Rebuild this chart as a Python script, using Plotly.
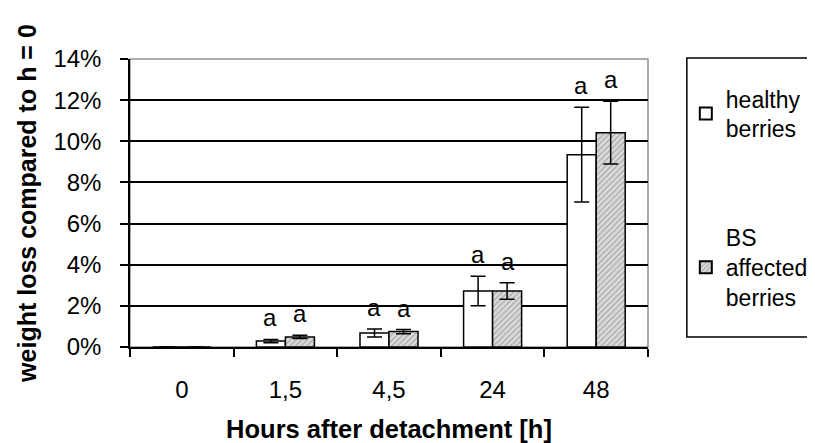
import plotly.graph_objects as go

categories = ["0", "1,5", "4,5", "24", "48"]
healthy = [0.0, 0.0029, 0.0068, 0.0272, 0.0935]
healthy_err = [0.0, 0.0008, 0.0019, 0.0072, 0.0230]
bs = [0.0, 0.0049, 0.0075, 0.0272, 0.1042]
bs_err = [0.0, 0.0008, 0.0010, 0.0040, 0.0153]
sig_healthy = ["", "a", "a", "a", "a"]
sig_bs = ["", "a", "a", "a", "a"]
series_names = ["healthy<br>berries", "BS<br>affected<br>berries"]
y_ticks = [0, 0.02, 0.04, 0.06, 0.08, 0.10, 0.12, 0.14]
y_title = "weight loss compared to h = 0"
x_title = "Hours after detachment [h]"

FONT = "Liberation Sans, Arial, sans-serif"

fig = go.Figure()
fig.add_trace(go.Bar(
    x=categories, y=healthy, name=series_names[0],
    marker=dict(color="white", line=dict(color="black", width=1.5)),
    error_y=dict(type="data", array=healthy_err, visible=True,
                 color="black", thickness=1.5, width=7.5),
    legendgroup="h",
))
fig.add_trace(go.Bar(
    x=categories, y=bs, name=series_names[1],
    marker=dict(color="#d4d4d4", line=dict(color="black", width=1.5),
                pattern=dict(shape="/", fgcolor="#777777", bgcolor="#dcdcdc",
                             size=4, solidity=0.35)),
    error_y=dict(type="data", array=bs_err, visible=True,
                 color="black", thickness=1.5, width=7.5),
    legendgroup="b",
))

annotations = []
for i, c in enumerate(categories):
    if sig_healthy[i]:
        annotations.append(dict(x=i, y=healthy[i] + healthy_err[i], text=sig_healthy[i],
                                xref="x", yref="y", showarrow=False, xshift=-15,
                                yanchor="bottom", yshift=6,
                                font=dict(family=FONT, size=24, color="black")))
    if sig_bs[i]:
        annotations.append(dict(x=i, y=bs[i] + bs_err[i], text=sig_bs[i],
                                xref="x", yref="y", showarrow=False, xshift=15,
                                yanchor="bottom", yshift=6,
                                font=dict(family=FONT, size=24, color="black")))
annotations.append(dict(x=-0.199, y=0.5, xref="paper", yref="paper", text="<b>" + y_title + "</b>",
                        textangle=-90, showarrow=False, xanchor="center", yanchor="middle",
                        font=dict(family=FONT, size=25, color="black")))

fig.update_layout(
    width=807, height=435,
    margin=dict(l=122, r=167, t=51, b=96, autoexpand=False),
    paper_bgcolor="white", plot_bgcolor="white",
    font=dict(family=FONT, size=24, color="black"),
    barmode="group", bargap=0.44, bargroupgap=0,
    showlegend=True,
    legend=dict(x=1.073, y=0.937, xanchor="left", yanchor="top",
                font=dict(family=FONT, size=23, color="black"),
                bgcolor="rgba(0,0,0,0)", borderwidth=0,
                tracegroupgap=76, traceorder="grouped",
                itemsizing="constant"),
    annotations=annotations,
    shapes=[
        dict(type="rect", xref="paper", yref="paper", x0=0, y0=0, x1=1, y1=1,
             line=dict(color="#909090", width=1.5), layer="below"),
        dict(type="rect", xref="paper", yref="paper", x0=1.075, y0=0.035, x1=1.4, y1=1.0035,
             line=dict(color="black", width=1.5), fillcolor="rgba(0,0,0,0)"),
    ],
)

fig.update_yaxes(
    range=[0, 0.14], tickvals=y_ticks, tickformat=".0%",
    showgrid=True, gridcolor="black", gridwidth=1.5,
    showline=True, linecolor="black", linewidth=1.5,
    ticks="outside", ticklen=8, tickcolor="black", tickwidth=1.5,
    ticklabelstandoff=14, zeroline=False, automargin=False,
    tickfont=dict(family=FONT, size=24, color="black"),
)
fig.update_xaxes(
    type="category", range=[-0.5, 4.5], automargin=False,
    showline=True, linecolor="black", linewidth=1.5,
    ticks="outside", ticklen=8, tickcolor="black", tickwidth=1.5,
    tickson="boundaries", showgrid=False,
    ticklabelstandoff=20,
    title=dict(text="<b>" + x_title + "</b>", standoff=24,
               font=dict(family=FONT, size=25.5, color="black")),
    tickfont=dict(family=FONT, size=24, color="black"),
)

fig.write_html("out.html")
